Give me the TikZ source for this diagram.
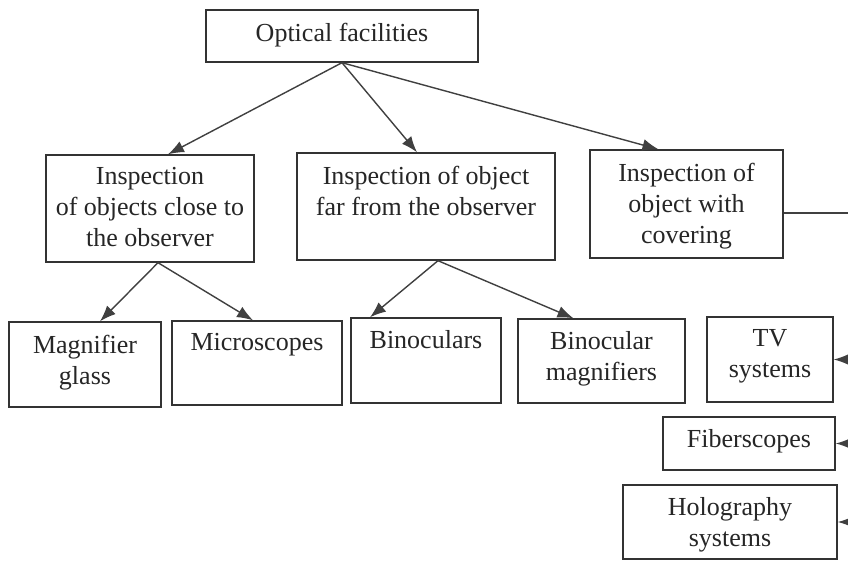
\documentclass[tikz,border=0pt]{standalone}
\usepackage{fontspec}
\setmainfont{Liberation Serif}
\usetikzlibrary{arrows.meta}

\begin{document}
\begin{tikzpicture}[x=0.5pt, y=-0.5pt,
    box/.style={rectangle, draw=black!80, line width=0.7pt, inner sep=0pt},
    boxtext/.style={anchor=north, align=center, inner sep=6.5pt, text=black!85, font=\fontsize{13}{15.5}\selectfont},
    arrow/.style={-{Latex[length=8pt,width=6pt]}, draw=black!75, line width=0.7pt},
    trunkline/.style={draw=black!75, line width=0.7pt}
]
\useasboundingbox[fill=white] (0,0) rectangle (848,561);

% Root
\node[box, minimum width=136pt, minimum height=26pt, label={[boxtext]north:Optical facilities}] (optical) at (342,36) {};

% Kinds of inspection
\node[box, minimum width=104pt, minimum height=53.5pt, label={[boxtext]north:{Inspection\\of objects close to\\the observer}}] (close) at (150,208.5) {};
\node[box, minimum width=129pt, minimum height=53.5pt, label={[boxtext]north:{Inspection of object\\far from the observer}}] (far) at (426,206.5) {};
\node[box, minimum width=96.5pt, minimum height=54pt, label={[boxtext]north:{Inspection of\\object with\\covering}}] (covering) at (686.5,204) {};

% Instruments
\node[box, minimum width=76pt, minimum height=42.5pt, label={[boxtext]north:{Magnifier\\glass}}] (magnifier) at (85,364.5) {};
\node[box, minimum width=85pt, minimum height=42pt, label={[boxtext]north:Microscopes}] (microscopes) at (257,363) {};
\node[box, minimum width=75pt, minimum height=42.5pt, label={[boxtext]north:Binoculars}] (binoculars) at (426,360.5) {};
\node[box, minimum width=83.5pt, minimum height=42pt, label={[boxtext]north:{Binocular\\magnifiers}}] (binomag) at (601.5,361) {};
\node[box, minimum width=63pt, minimum height=42.5pt, label={[boxtext]north:{TV\\systems}}] (tv) at (770,359.5) {};
\node[box, minimum width=86pt, minimum height=26.5pt, label={[boxtext]north:Fiberscopes}] (fiber) at (749,443.5) {};
\node[box, minimum width=107pt, minimum height=37pt, label={[boxtext]north:{Holography\\systems}}] (holo) at (730,522) {};

% Trunk on the right (runs along the cut edge)
\coordinate (trunk) at (850,213);
\coordinate (trunkend) at (850,523);

% Connections
\draw[arrow] (optical.south) -- ([xshift=9pt]close.north);
\draw[arrow] (optical.south) -- ([xshift=-4.5pt]far.north);
\draw[arrow] (optical.south) -- ([xshift=-14pt]covering.north);
\draw[arrow] ([xshift=4pt]close.south) -- ([xshift=7.5pt]magnifier.north);
\draw[arrow] ([xshift=4pt]close.south) -- ([xshift=-2pt]microscopes.north);
\draw[arrow] ([xshift=6pt]far.south) -- ([xshift=-28pt]binoculars.north);
\draw[arrow] ([xshift=6pt]far.south) -- ([xshift=-14pt]binomag.north);
\draw[trunkline] ([yshift=-4.5pt]covering.east) -- (trunk) -- (trunkend);
\draw[arrow] (trunk |- tv.east) -- (tv.east);
\draw[arrow] (trunk |- fiber.east) -- (fiber.east);
\draw[arrow] (trunk |- holo.east) -- (holo.east);

\end{tikzpicture}
\end{document}
